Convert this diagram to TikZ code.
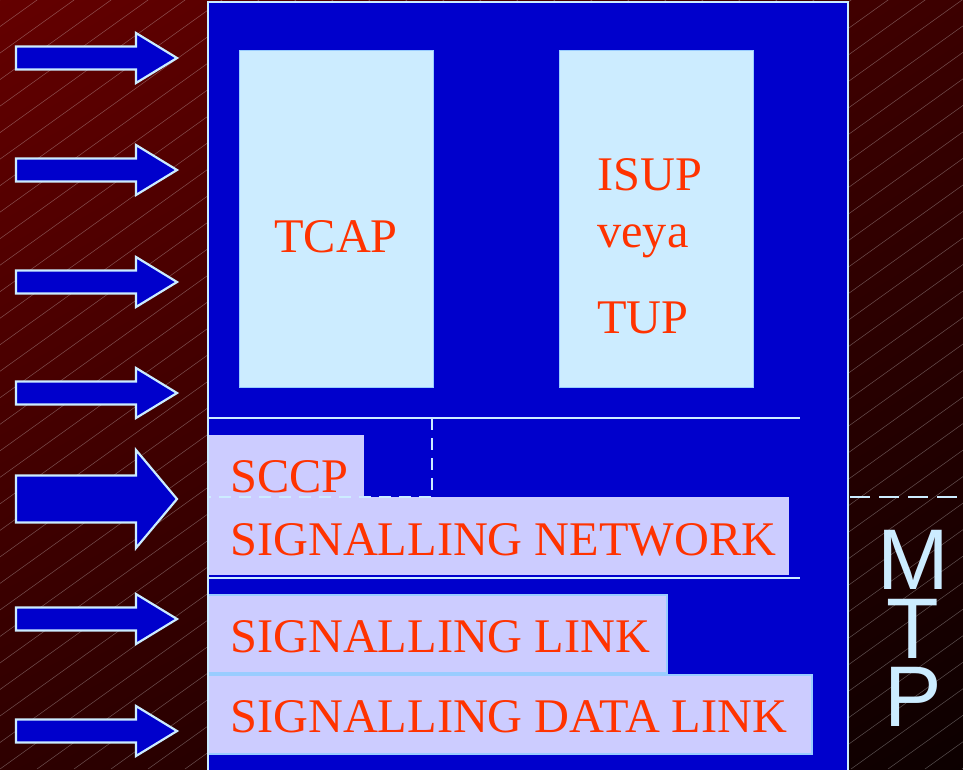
\documentclass[tikz,border=0pt]{standalone}
\usepackage{fontspec}
\setmainfont{Liberation Serif}
\setsansfont{Liberation Sans}
\usetikzlibrary{shadings}
\newlength\px \setlength\px{0.02cm}
\definecolor{bgA}{HTML}{640000}
\definecolor{bgB}{HTML}{3C0000}
\definecolor{bgC}{HTML}{2E0000}
\definecolor{bgD}{HTML}{0C0000}
\definecolor{deepblue}{HTML}{0000CC}
\definecolor{lcyan}{HTML}{CCECFF}
\definecolor{lavender}{HTML}{CCCCFF}
\definecolor{edge}{HTML}{99CCFF}
\definecolor{txtred}{HTML}{FF3300}

\begin{document}
\begin{tikzpicture}[x=0.02cm, y=-0.02cm,
  hatch/.style={draw=white, opacity=0.3, line width=0.3pt},
  arrowbox/.style={fill=deepblue, draw=lcyan, line width=2.2\px},
  upbox/.style={fill=lcyan, draw=edge, line width=1\px},
  sep/.style={draw=lcyan, line width=2\px},
  cut/.style={draw=lcyan, line width=2\px, dash pattern=on 12\px off 8\px},
  lbl/.style={text=txtred, inner sep=0pt, font=\fontsize{27.5}{30}\selectfont},
  mtp/.style={text=lcyan, inner sep=0pt, align=center,
              font=\sffamily\fontsize{49}{39}\selectfont}]
\useasboundingbox (0,0) rectangle (963,769);
\shade[upper left=bgA, upper right=bgB, lower left=bgC, lower right=bgD]
  (0,0) rectangle (963,769); % фон
\begin{scope}
  \clip (0,0) rectangle (963,769);
  \foreach \i in {-32,...,30}
    \draw[hatch] (\i*37,769) -- ++(1200,-860); % штриховка
\end{scope}
% стрелки слева
\foreach \yc/\s/\h in {58/11.5/25, 170/11.5/25, 282/11.5/25, 393/11.5/25,
                       499/23.5/49, 619/11.5/25, 731/11.5/25}
  \draw[arrowbox] (16,\yc-\s) -- (136,\yc-\s) -- (136,\yc-\h) -- (177,\yc)
    -- (136,\yc+\h) -- (136,\yc+\s) -- (16,\yc+\s) -- cycle;
% основной блок
\fill[deepblue] (208,2) rectangle (848,775);
\draw[upbox] (239,50) rectangle (433,387);
\draw[upbox] (559,50) rectangle (753,387);
\draw[sep] (208,418) -- (800,418);
\draw[sep] (208,578) -- (800,578);
\fill[lavender] (208,435) rectangle (364,497);
\fill[lavender] (208,497) rectangle (789,575);
\draw[fill=lavender, draw=edge, line width=2\px] (208,595) rectangle (667,673);
\draw[fill=lavender, draw=edge, line width=2\px] (208,675) rectangle (812,754);
\draw[cut] (432,418) -- (432,497) -- (208,497);
\draw[sep] (208,775) -- (208,2) -- (848,2) -- (848,775);
\draw[cut, dash pattern=on 20\px off 9\px] (850,497) -- (963,497);
% подписи
\node[lbl, anchor=base] (tcap) at (336,252) {TCAP};
\node[lbl, anchor=base west] (isup) at (597,190) {ISUP};
\node[lbl, anchor=base west] (veya) at (597,247) {veya};
\node[lbl, anchor=base west] (tup) at (597,333) {TUP};
\node[lbl, anchor=base west] (sccp) at (230,492) {SCCP};
\node[lbl, anchor=base west] (net) at (230,555) {SIGNALLING NETWORK};
\node[lbl, anchor=base west] (link) at (230,652) {SIGNALLING LINK};
\node[lbl, anchor=base west] (data) at (230,732) {SIGNALLING DATA LINK};
\node[mtp, anchor=north] (mtp) at (913,530) {M\\T\\P};
\end{tikzpicture}
\end{document}
